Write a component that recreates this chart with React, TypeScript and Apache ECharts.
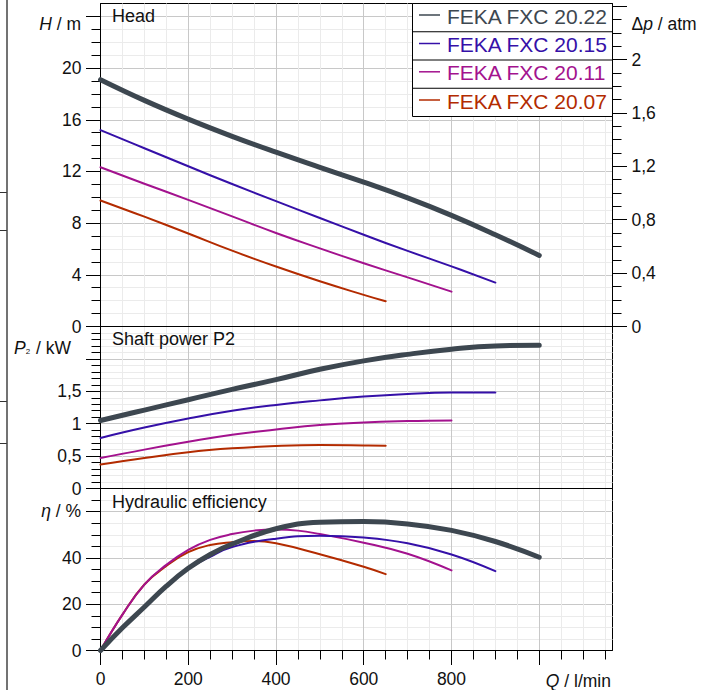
import React, { useEffect, useRef } from "react";
import * as echarts from "echarts";

const FONT = '"Liberation Sans", Arial, Helvetica, sans-serif';

// ---- data ----
const models = ["FEKA FXC 20.22", "FEKA FXC 20.15", "FEKA FXC 20.11", "FEKA FXC 20.07"];
const colors = ["#3d4750", "#3510a8", "#a3128e", "#b32b00"];
const widths = [5, 2, 2, 2];

const Q_MAX = 1167;
const ATM_PER_M = 0.0967841;

// Head H / m
const qHead22 = [0, 100, 200, 300, 400, 500, 600, 700, 800, 900, 1000];
const head22 = [19.1, 17.5, 16.05, 14.72, 13.49, 12.32, 11.17, 9.95, 8.6, 7.1, 5.5];
const qHead15 = [0, 100, 200, 300, 400, 500, 600, 700, 800, 900];
const head15 = [15.2, 13.8, 12.4, 11.03, 9.7, 8.4, 7.1, 5.85, 4.65, 3.4];
const qHead11 = [0, 100, 200, 300, 400, 500, 600, 700, 800];
const head11 = [12.33, 11.05, 9.8, 8.52, 7.24, 6.05, 4.9, 3.8, 2.7];
const qHead07 = [0, 100, 200, 300, 400, 500, 600, 650];
const head07 = [9.75, 8.5, 7.2, 5.87, 4.64, 3.5, 2.45, 1.95];

// Shaft power P2 / kW
const power22 = [1.05, 1.21, 1.37, 1.53, 1.68, 1.84, 1.97, 2.07, 2.15, 2.2, 2.21];
const power15 = [0.78, 0.94, 1.08, 1.2, 1.29, 1.36, 1.42, 1.46, 1.48, 1.48];
const power11 = [0.47, 0.6, 0.72, 0.83, 0.91, 0.98, 1.02, 1.04, 1.05];
const power07 = [0.37, 0.47, 0.56, 0.62, 0.655, 0.67, 0.665, 0.66];

// Hydraulic efficiency eta / %
const qEff22 = [0, 50, 100, 150, 200, 250, 300, 400, 500, 600, 700, 800, 900, 1000];
const eff22 = [0, 9.8, 18.8, 27.8, 35.5, 41.5, 46, 52.6, 55.4, 55.7, 54.7, 51.9, 47.1, 40.3];
const qEff15 = [0, 50, 100, 150, 200, 250, 300, 400, 500, 600, 700, 800, 900];
const eff15 = [0, 9.8, 19, 28, 35.3, 40.5, 44.7, 48.3, 49.6, 48.8, 46.3, 41.5, 34.3];
const qEff11 = [0, 50, 100, 150, 200, 250, 300, 350, 400, 450, 500, 600, 700, 800];
const eff11 = [0, 15.5, 28.5, 37, 43.5, 47.8, 50.3, 51.8, 52.3, 51.8, 50.3, 46.6, 41.8, 34.6];
const qEff07 = [0, 50, 100, 150, 200, 250, 300, 350, 400, 500, 600, 650];
const eff07 = [0, 15.5, 28.5, 36.5, 42.5, 45.6, 46.8, 47.3, 46.3, 41.6, 36.2, 33];

// tick / label values
const qTicks = [0, 200, 400, 600, 800, 1000];
const qLabels = [0, 200, 400, 600, 800];
const hTicks = [0, 4, 8, 12, 16, 20, 24];
const hLabels = [0, 4, 8, 12, 16, 20];
const pTicks = [0, 0.4, 0.8, 1.2, 1.6, 2, 2.4];
const pLabels = [0, 0.4, 0.8, 1.2, 1.6, 2];
const powTicks = [0, 0.5, 1, 1.5, 2, 2.5];
const powLabels = [0, 0.5, 1, 1.5];
const effTicks = [0, 20, 40, 60];
const effLabels = [0, 20, 40];

const comma = (v: number) => String(v).replace(".", ",");

const GL = 100.5;
const GW = 512;
const grids = [
  { top: 3.5, height: 323 },
  { top: 326.5, height: 162 },
  { top: 488.5, height: 162 },
];

function xAxis(gridIndex: number, showLabels: boolean) {
  return {
    type: "value",
    gridIndex,
    min: 0,
    max: Q_MAX,
    interval: 200,
    axisLine: { show: true, onZero: false, lineStyle: { color: "#000", width: 1 } },
    axisTick: { show: showLabels, length: 14.5, customValues: qTicks, lineStyle: { color: "#000", width: 1 } },
    minorTick: { show: showLabels, splitNumber: 4, length: 9, lineStyle: { color: "#000", width: 1 } },
    axisLabel: {
      show: showLabels,
      customValues: qLabels,
      margin: 19,
      fontSize: 17.5,
      fontFamily: FONT,
      color: "#111",
    },
    splitLine: { show: true, lineStyle: { color: "#c8c8c8", width: 1 } },
    minorSplitLine: { show: true, lineStyle: { color: "#ebebeb", width: 1 } },
  };
}

function yAxis(
  gridIndex: number,
  max: number,
  interval: number,
  split: number,
  ticks: number[],
  labels: number[],
  position: string,
  grid: boolean
) {
  return {
    type: "value",
    gridIndex,
    min: 0,
    max,
    interval,
    position,
    axisLine: { show: true, onZero: false, lineStyle: { color: "#000", width: 1 } },
    axisTick: { show: true, length: 14.5, customValues: ticks, lineStyle: { color: "#000", width: 1 } },
    minorTick: { show: true, splitNumber: split, length: 9, lineStyle: { color: "#000", width: 1 } },
    axisLabel: {
      show: true,
      customValues: labels,
      margin: 19,
      fontSize: 17.5,
      fontFamily: FONT,
      color: "#111",
      formatter: (v: number) => comma(v),
    },
    splitLine: { show: grid, lineStyle: { color: "#c8c8c8", width: 1 } },
    minorSplitLine: { show: grid, lineStyle: { color: "#ebebeb", width: 1 } },
  };
}

function line(i: number, q: number[], v: number[], axisIdx: number, yIdx: number) {
  return {
    type: "line",
    name: models[i],
    xAxisIndex: axisIdx,
    yAxisIndex: yIdx,
    data: q.map((x, k) => [x, v[k]]),
    showSymbol: false,
    symbol: "none",
    smooth: 0.45,
    silent: true,
    z: i === 0 ? 5 : 4 - i * 0.5,
    lineStyle: { color: colors[i], width: widths[i], cap: "round", join: "round" },
    itemStyle: { color: colors[i] },
  };
}

function txt(x: number, y: number, text: string, size: number, align: string, fill = "#111", rich?: any) {
  return {
    type: "text",
    x,
    y,
    z: 120,
    silent: true,
    style: {
      text,
      fill,
      fontSize: size,
      fontFamily: FONT,
      textAlign: align,
      textVerticalAlign: "middle",
      rich,
    },
  };
}

const italic = (size: number) => ({
  i: { fontStyle: "italic", fontSize: size, fontFamily: FONT, fill: "#111" },
  n: { fontSize: size, fontFamily: FONT, fill: "#111" },
});

export default function App() {
  const ref = useRef<HTMLDivElement>(null);

  useEffect(() => {
    if (!ref.current) return;
    document.body.style.margin = "0";
    const chart = echarts.init(ref.current, undefined, { renderer: "svg" });

    const legendRows = [16, 44.5, 72.8, 101];
    const legendSeps = [31.75, 60, 88.25];

    const graphic: any[] = [
      // page edge decorations
      ...[192.5, 230.5, 401.5, 443.5].map((y) => ({
        type: "line",
        z: 120,
        silent: true,
        shape: { x1: 0, y1: y, x2: 7, y2: y },
        style: { stroke: "#333", lineWidth: 1 },
      })),
      {
        type: "polyline",
        z: 121,
        silent: true,
        shape: { points: [[7, 0], [7, 345], [7, 690]] },
        style: { stroke: "#444", lineWidth: 1.5, fill: "none" },
      },
      // legend
      {
        type: "rect",
        z: 110,
        silent: true,
        shape: { x: 412.5, y: 3.5, width: 200, height: 113 },
        style: { fill: "#fff", stroke: "#000", lineWidth: 1 },
      },
      ...legendSeps.map((y) => ({
        type: "line",
        z: 111,
        silent: true,
        shape: { x1: 412.5, y1: y, x2: 612.5, y2: y },
        style: { stroke: "#000", lineWidth: 1 },
      })),
      ...models.map((m, i) => ({
        type: "line",
        z: 112,
        silent: true,
        shape: { x1: 419, y1: legendRows[i] - 1, x2: 440, y2: legendRows[i] - 1 },
        style: { stroke: colors[i], lineWidth: 1.5 },
      })),
      ...models.map((m, i) => txt(447, legendRows[i], m, 21, "left", colors[i])),
      // panel titles
      txt(112, 15.5, "Head", 18, "left"),
      txt(112, 339, "Shaft power P2", 18, "left"),
      txt(112, 502, "Hydraulic efficiency", 18, "left"),
      // axis names
      txt(81, 23.8, "{i|H}{n| / m}", 17.5, "right", "#111", italic(17.5)),
      txt(631.5, 23.8, "{n|\u0394}{i|p}{n| / atm}", 17.5, "left", "#111", italic(17.5)),
      txt(71, 347.5, "{i|P}{s|2}{n| / kW}", 17.5, "right", "#111", {
        ...italic(17.5),
        s: { fontSize: 8, fontFamily: FONT, fill: "#111", padding: [8, 1, 0, 0] },
      }),
      txt(81, 511, "{i|\u03b7}{n| / %}", 17.5, "right", "#111", italic(17.5)),
      txt(611, 680.5, "{i|Q}{n| / l/min}", 17.5, "right", "#111", italic(17.5)),
    ];

    const option: any = {
      animation: false,
      backgroundColor: "#fff",
      textStyle: { fontFamily: FONT },
      legend: { show: false },
      tooltip: { show: false },
      grid: grids.map((g) => ({
        left: GL,
        width: GW,
        top: g.top,
        height: g.height,
        show: true,
        borderColor: "#000",
        borderWidth: 1,
        backgroundColor: "transparent",
        containLabel: false,
        outerBoundsMode: "none",
      })),
      xAxis: [xAxis(0, false), xAxis(1, false), xAxis(2, true)],
      yAxis: [
        yAxis(0, 25, 4, 4, hTicks, hLabels, "left", true),
        yAxis(0, 25 * ATM_PER_M, 0.4, 4, pTicks, pLabels, "right", false),
        yAxis(1, 2.5, 0.5, 5, powTicks, powLabels, "left", true),
        yAxis(2, 70, 20, 4, effTicks, effLabels, "left", true),
      ],
      series: [
        line(3, qHead07, head07, 0, 0),
        line(2, qHead11, head11, 0, 0),
        line(1, qHead15, head15, 0, 0),
        line(0, qHead22, head22, 0, 0),
        line(3, qHead07, power07, 1, 2),
        line(2, qHead11, power11, 1, 2),
        line(1, qHead15, power15, 1, 2),
        line(0, qHead22, power22, 1, 2),
        line(3, qEff07, eff07, 2, 3),
        line(2, qEff11, eff11, 2, 3),
        line(1, qEff15, eff15, 2, 3),
        line(0, qEff22, eff22, 2, 3),
      ],
      graphic,
    };

    chart.setOption(option);
    return () => chart.dispose();
  }, []);

  return <div ref={ref} style={{ width: 712, height: 690, background: "#fff" }} />;
}
